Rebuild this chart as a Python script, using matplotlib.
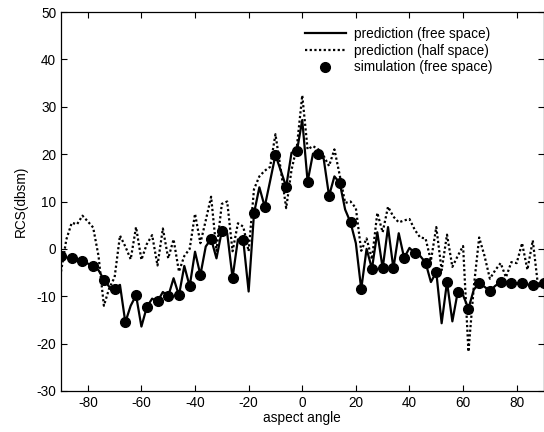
import numpy as np
import matplotlib
matplotlib.use("Agg")
import matplotlib.pyplot as plt

plt.rcParams['font.family'] = ['Liberation Sans', 'DejaVu Sans']
plt.rcParams['axes.unicode_minus'] = False

# aspect angle grid of the predictions (2 deg) and of the simulation (4 deg)
angle_pred = np.arange(-90, 91, 2)
angle_sim = np.arange(-90, 91, 4)

# prediction (free space), dBsm
rcs_free = [
    -1.6, -1.8, -2.0, -2.3, -2.6, -3.1, -3.6, -4.5, -6.5, -8.0,
    -8.4, -7.6, -15.5, -12.0, -9.8, -16.4, -12.3, -10.5, -11.1, -9.1,
    -10.0, -6.2, -9.8, -3.6, -7.9, -0.6, -5.5, 0.5, 2.1, -2.0,
    3.8, 3.3, -6.1, 2.0, 1.8, -9.0, 7.5, 13.0, 8.9, 14.3,
    19.8, 16.5, 13.1, 20.3, 20.6, 27.2, 14.2, 20.1, 20.1, 19.0,
    11.2, 15.3, 13.9, 8.3, 5.6, 1.2, -8.5, 0.0, -4.2, 3.5,
    -4.1, 4.6, -4.1, 3.3, -1.9, 0.2, -0.9, -1.5, -2.9, -7.0,
    -4.9, -15.7, -7.0, -15.3, -9.1, -9.8, -12.6, -8.6, -7.3, -8.0,
    -8.9, -7.8, -7.0, -7.1, -7.2, -7.3, -7.3, -7.5, -7.8, -7.5,
    -7.2,
]

# prediction (half space), dBsm
rcs_half = [
    -4.8, 2.0, 5.5, 5.2, 7.0, 5.8, 4.5, -1.5, -12.0, -8.3,
    -6.0, 2.8, 0.5, -2.2, 4.6, -2.3, 1.0, 2.9, -3.5, 4.3,
    -2.0, 2.0, -4.8, -1.5, 0.0, 7.4, 1.2, 6.0, 11.0, -0.4,
    9.5, 10.0, -0.5, 5.4, 4.7, -0.5, 12.6, 15.3, 16.5, 17.3,
    24.2, 16.7, 8.6, 16.7, 21.6, 32.4, 21.0, 21.7, 21.0, 19.6,
    17.5, 21.0, 15.5, 9.7, 10.0, 8.6, -0.4, 2.2, -2.2, 7.6,
    3.5, 8.9, 6.8, 5.6, 6.0, 6.3, 4.0, 2.4, 2.2, -2.5,
    4.6, -4.5, 3.0, -3.8, -1.5, 0.6, -21.7, -8.0, 2.4, -1.5,
    -6.3, -4.5, -3.0, -6.0, -2.8, -3.0, 1.2, -4.4, 1.8, -8.0,
    -7.4,
]

# simulation (free space), dBsm
rcs_sim = [
    -1.6, -2.0, -2.6, -3.6, -6.5, -8.4, -15.4, -9.8, -12.2, -11.0,
    -10.0, -9.8, -7.9, -5.5, 2.1, 3.8, -6.1, 1.8, 7.5, 8.9,
    19.8, 13.1, 20.6, 14.2, 20.1, 11.2, 13.9, 5.6, -8.5, -4.2,
    -4.0, -4.0, -1.9, -0.9, -2.9, -4.9, -7.0, -9.1, -12.6, -7.3,
    -8.9, -7.0, -7.2, -7.3, -7.7, -7.2,
]

fig = plt.figure(figsize=(5.44, 4.32), dpi=100)
ax = fig.add_axes([61 / 544, 41 / 432, 482.5 / 544, 379 / 432])

ax.plot(angle_pred, rcs_free, color='black', linewidth=1.6, linestyle='-',
        label='prediction (free space)')
ax.plot(angle_pred, rcs_half, color='black', linewidth=1.6,
        linestyle=(0, (1, 1.1)), label='prediction (half space)')
ax.plot(angle_sim, rcs_sim, color='black', linestyle='none', marker='o',
        markersize=7, label='simulation (free space)')

ax.set_xlim(-90, 90)
ax.set_ylim(-30, 50)
ax.set_xticks(np.arange(-80, 81, 20))
ax.set_yticks(np.arange(-30, 51, 10))
ax.tick_params(direction='in', top=True, right=True, length=4,
               labelsize=9.8, width=0.8)
for s in ax.spines.values():
    s.set_linewidth(0.9)

ax.set_xlabel('aspect angle', fontsize=9.8, labelpad=1)
ax.set_ylabel('RCS(dbsm)', fontsize=9.8, labelpad=6)

ax.legend(loc='upper right', bbox_to_anchor=(0.905, 0.975), frameon=False,
          fontsize=9.8, handlelength=3.0, handletextpad=0.6,
          labelspacing=0.2, borderaxespad=0)

fig.savefig('out.png', dpi=100)
